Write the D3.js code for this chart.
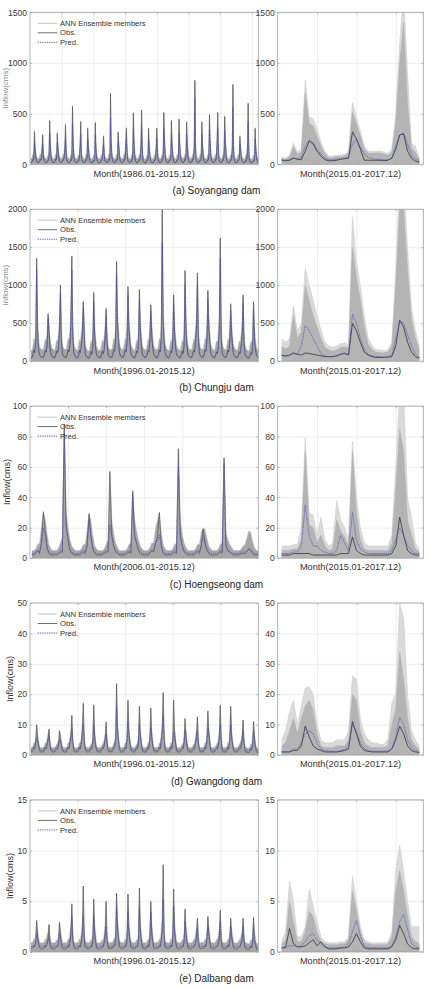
<!DOCTYPE html>
<html>
<head>
<meta charset="utf-8">
<script src="https://cdn.jsdelivr.net/npm/d3@7"></script>
<style>
  body { margin: 0; background: #fff; }
  svg { display: block; font-family: "Liberation Sans", Arial, sans-serif; }
</style>
</head>
<body>
<script>
// Labels
const captions = ['(a) Soyangang dam', '(b) Chungju dam', '(c) Hoengseong dam', '(d) Gwangdong dam', '(e) Dalbang dam'];
const longPeriods = ['Month(1986.01-2015.12)', 'Month(1996.01-2015.12)', 'Month(2006.01-2015.12)', 'Month(1996.01-2015.12)', 'Month(1996.01-2015.12)'];
const shortPeriod = 'Month(2015.01-2017.12)';
const legendNames = ['ANN Ensemble members', 'Obs.', 'Pred.'];
const yLabel = 'Inflow(cms)';

// Axis ticks
const yTicks = [[0, 500, 1000, 1500], [0, 500, 1000, 1500, 2000], [0, 20, 40, 60, 80, 100], [0, 10, 20, 30, 40, 50], [0, 5, 10, 15]];
const longGrid = [[50, 100, 150, 200, 250, 300, 350], [50, 100, 150, 200], [20, 40, 60, 80, 100], [50, 100, 150, 200], [50, 100, 150, 200]];
const shortGrid = [10, 20, 30];
const longMonths = [360, 240, 120, 240, 240];
const shortMonths = 36;

// (a) Soyangang 1986-2015, monthly (one row per year)
const obsA = [
  [15,14,20,45,35,60,320,150,80,35,25,18],[16,15,25,50,40,55,130,290,90,40,28,18],[15,14,22,40,38,70,430,200,85,38,26,17],
  [16,15,24,48,42,60,305,160,95,40,27,18],[17,16,25,45,40,80,140,390,120,42,28,19],[15,14,22,42,38,65,570,230,90,38,26,17],
  [16,15,20,40,35,55,180,420,110,40,27,18],[15,14,24,46,40,60,355,170,95,38,26,17],[14,13,20,38,32,50,410,150,70,32,24,16],
  [15,14,22,40,36,55,120,275,100,38,26,17],[16,15,24,45,40,70,700,210,90,40,27,18],[15,14,22,44,38,60,315,180,85,38,26,17],
  [16,15,24,46,40,75,200,355,130,42,28,18],[15,14,22,44,38,65,505,220,95,40,27,18],[16,15,24,42,40,70,180,535,160,42,28,18],
  [14,13,20,38,34,55,355,160,80,35,25,16],[15,14,22,40,36,60,150,355,120,40,27,17],[16,15,24,46,42,80,510,260,110,42,28,18],
  [15,14,22,44,38,65,430,190,95,40,27,17],[16,15,24,45,40,70,445,210,100,42,28,18],[17,16,25,48,42,75,415,200,95,40,28,18],
  [16,15,24,45,40,80,160,830,180,45,30,19],[15,14,22,42,38,65,415,190,90,38,27,17],[16,15,24,44,40,70,490,220,100,40,28,18],
  [17,16,25,46,42,75,200,510,170,42,29,18],[16,15,24,45,40,90,470,250,110,42,28,18],[15,14,22,40,36,60,150,790,160,40,27,17],
  [16,15,24,44,38,65,275,140,85,38,26,17],[14,13,20,38,34,55,170,600,140,38,26,16],[13,12,18,36,32,50,355,150,80,35,24,15]
].flat();
const predA = [
  [20,18,24,42,40,62,205,150,85,42,30,22],[20,18,26,46,42,60,140,200,95,44,30,22],[19,17,24,40,40,70,300,190,90,42,29,21],
  [20,18,25,45,43,62,210,160,98,44,30,22],[21,19,26,44,42,78,150,270,125,45,31,22],[19,17,24,42,40,66,400,220,95,42,29,21],
  [20,18,22,40,38,58,170,290,115,44,30,22],[19,17,25,44,42,62,250,165,98,42,29,21],[18,16,22,38,35,52,290,150,78,38,27,20],
  [19,17,24,40,38,57,125,195,105,42,29,21],[20,18,25,44,42,70,460,200,95,44,30,22],[19,17,24,43,40,62,220,170,90,42,29,21],
  [20,18,25,45,42,74,190,250,130,45,31,22],[19,17,24,43,40,66,350,210,100,44,30,22],[20,18,25,42,42,70,170,370,155,45,31,22],
  [18,16,22,38,36,56,250,155,85,40,28,20],[19,17,24,40,38,60,145,250,120,44,30,21],[20,18,25,45,44,78,360,240,115,45,31,22],
  [19,17,24,43,40,66,300,185,100,44,30,21],[20,18,25,44,42,70,310,200,105,45,31,22],[21,19,26,46,44,74,290,195,100,44,31,22],
  [20,18,25,44,42,78,160,650,175,48,33,23],[19,17,24,42,40,66,290,185,95,42,30,21],[20,18,25,43,42,70,340,210,105,44,31,22],
  [21,19,26,45,44,74,190,360,165,45,32,22],[20,18,25,44,42,88,330,240,115,45,31,22],[19,17,24,40,38,60,150,560,160,44,30,21],
  [20,18,25,43,40,64,200,140,90,42,29,21],[18,16,22,38,36,56,160,420,140,42,29,20],[17,15,20,36,34,52,250,150,85,40,27,19]
].flat();
const ensA = [
  [60,55,70,95,90,120,340,210,140,85,70,60],[60,55,75,100,95,115,190,300,150,90,72,60],[58,52,70,90,90,130,440,260,145,85,70,58],
  [60,55,72,98,95,120,320,220,155,90,72,60],[62,57,75,95,92,140,200,400,180,92,74,62],[58,52,70,92,90,125,580,290,150,85,70,58],
  [60,55,68,90,85,115,240,430,170,90,72,60],[58,52,72,96,92,120,365,230,155,85,70,58],[56,50,68,88,82,110,420,210,130,80,68,56],
  [58,52,70,90,88,115,180,285,160,85,70,58],[60,55,72,95,92,130,690,270,150,90,72,60],[58,52,70,94,90,120,325,240,145,85,70,58],
  [60,55,72,96,92,135,260,365,190,92,74,60],[58,52,70,94,90,125,510,280,155,90,72,60],[60,55,72,92,92,130,240,540,220,92,74,60],
  [56,50,68,88,84,115,360,220,140,82,68,56],[58,52,70,90,88,120,210,360,180,90,72,58],[60,55,72,96,94,140,515,320,170,92,74,60],
  [58,52,70,94,90,125,440,250,155,90,72,58],[60,55,72,95,92,130,450,270,160,92,74,60],[62,57,75,98,94,135,425,260,155,90,74,60],
  [60,55,72,95,92,140,220,820,240,95,76,62],[58,52,70,92,90,125,425,250,150,85,72,58],[60,55,72,94,92,130,495,280,160,90,74,60],
  [62,57,75,96,94,135,260,515,230,92,75,60],[60,55,72,95,92,150,480,310,170,92,74,60],[58,52,70,90,88,120,210,780,220,90,72,58],
  [60,55,72,94,90,125,285,200,145,85,70,58],[56,50,68,88,84,115,230,610,200,88,70,56],[54,48,65,85,82,110,365,210,140,82,66,54]
].flat();

// (b) Chungju 1996-2015
const obsB = [
  [45,40,70,150,110,240,1350,420,150,80,60,50],[50,45,80,140,120,200,620,380,180,90,65,50],[45,40,75,130,110,180,450,1000,300,100,70,55],
  [50,45,80,150,120,220,520,1380,350,110,70,55],[45,40,70,140,110,200,350,780,400,100,65,50],[40,35,60,120,90,180,900,350,160,80,60,45],
  [45,40,70,130,100,150,320,690,250,90,60,50],[50,45,80,150,130,260,1310,500,300,110,70,55],[50,45,80,150,120,250,980,420,250,100,70,55],
  [45,40,70,130,110,220,940,400,220,95,65,50],[50,45,75,140,120,260,740,350,180,90,65,50],[50,45,80,150,120,300,2000,550,260,110,70,55],
  [45,40,70,130,110,220,870,380,180,90,65,50],[45,40,70,130,100,200,1190,420,200,90,65,50],[50,45,80,140,120,250,450,1160,350,110,70,55],
  [50,45,80,150,130,280,930,450,250,100,70,55],[45,40,70,120,100,180,450,1620,380,110,70,55],[50,45,75,140,120,250,750,350,180,90,65,50],
  [45,40,70,120,100,180,350,870,250,90,60,50],[40,35,60,110,90,150,780,300,150,80,55,45]
].flat();
const predB = [
  [60,55,80,150,120,250,1200,430,170,90,70,60],[65,60,90,145,130,210,560,380,190,100,75,60],[60,55,85,135,120,190,440,880,310,110,80,65],
  [65,60,90,150,130,230,500,1200,360,120,80,65],[60,55,80,140,120,210,350,700,400,110,75,60],[55,50,70,125,100,190,790,350,170,90,70,55],
  [60,55,80,135,110,160,320,600,260,100,70,60],[65,60,90,150,140,270,1150,500,310,120,80,65],[65,60,90,150,130,260,870,420,260,110,80,65],
  [60,55,80,135,120,230,820,400,230,105,75,60],[65,60,85,145,130,270,660,350,190,100,75,60],[65,60,90,150,130,310,1550,550,270,120,80,65],
  [60,55,80,135,120,230,760,380,190,100,75,60],[60,55,80,135,110,210,1020,420,210,100,75,60],[65,60,90,145,130,260,450,1000,350,120,80,65],
  [65,60,90,150,140,290,820,450,260,110,80,65],[60,55,80,125,110,190,450,1350,380,120,80,65],[65,60,85,145,130,260,660,350,190,100,75,60],
  [60,55,80,125,110,190,350,760,260,100,70,60],[55,50,70,115,100,160,680,300,160,90,65,55]
].flat();
const ensB = [
  [150,140,200,300,260,420,1360,560,300,200,170,150],[160,150,220,290,280,380,640,520,330,220,180,160],[150,140,210,280,260,350,600,1010,450,230,180,160],
  [160,150,220,300,280,400,680,1380,500,240,190,160],[150,140,200,290,260,380,500,800,550,230,180,150],[140,130,190,270,240,350,920,500,310,200,170,140],
  [150,140,200,280,250,320,470,710,400,220,170,150],[160,150,220,300,290,450,1320,650,450,240,190,160],[160,150,220,300,280,430,990,570,400,230,190,160],
  [150,140,200,280,260,400,950,550,370,220,180,150],[160,150,210,290,280,450,760,500,330,220,180,150],[160,150,220,300,280,480,2000,700,420,240,190,160],
  [150,140,200,280,260,400,880,530,330,220,180,150],[150,140,200,280,250,380,1200,570,350,220,180,150],[160,150,220,290,280,430,600,1170,500,240,190,160],
  [160,150,220,300,290,460,940,600,400,230,190,160],[150,140,200,270,250,350,600,1620,530,240,190,160],[160,150,210,290,280,430,770,500,330,220,180,150],
  [150,140,200,270,250,350,500,880,400,220,170,150],[140,130,190,260,240,320,790,450,300,200,160,140]
].flat();

// (c) Hoengseong 2006-2015
const obsC = [
  [2,2,3,5,3,10,30,18,6,3,2,2],[2,2,3,4,4,88,22,12,5,3,2,2],[2,2,3,4,3,8,29,15,6,3,2,2],[2,2,3,4,4,57,15,8,4,3,2,2],
  [2,2,3,4,3,44,15,10,5,3,2,2],[2,2,3,5,4,10,14,30,8,3,2,2],[2,2,3,4,3,72,15,8,4,3,2,2],[2,2,3,4,3,8,19,10,5,3,2,2],
  [2,2,3,4,3,66,8,5,4,3,2,2],[2,2,3,3,3,4,6,5,3,2,2,2]
].flat();
const predC = [
  [3,3,4,5,4,9,20,15,7,4,3,3],[3,3,4,5,5,82,20,12,6,4,3,3],[3,3,4,5,4,8,25,14,7,4,3,3],[3,3,4,5,5,22,14,8,5,4,3,3],
  [3,3,4,5,4,42,14,10,6,4,3,3],[3,3,4,5,5,10,12,15,8,4,3,3],[3,3,4,5,4,60,14,8,5,4,3,3],[3,3,4,5,4,8,15,10,6,4,3,3],
  [3,3,4,5,4,62,8,5,4,3,3,3],[3,3,4,4,4,5,6,6,4,3,3,3]
].flat();
const ensC = [
  [5,5,6,9,10,20,31,26,16,9,6,5],[5,5,7,10,14,88,30,20,12,8,6,5],[5,5,6,9,9,18,30,25,15,8,6,5],[5,5,6,9,12,57,25,16,10,7,5,5],
  [5,5,6,9,10,45,25,18,12,8,6,5],[5,5,7,10,10,20,25,30,17,9,6,5],[5,5,6,9,10,72,25,16,10,7,5,5],[5,5,6,9,9,17,20,19,13,8,6,5],
  [5,5,6,9,10,66,16,12,9,7,5,5],[5,5,6,8,9,13,18,17,11,7,5,5]
].flat();

// (d) Gwangdong 1996-2015
const obsD = [
  [1,1,1.5,2.5,2,4,10,5,3,1.5,1,1],[1,1,1.5,2.5,2,3.5,5,8.5,3,1.5,1,1],[1,1,1.5,2,2,3,8,5,3,1.5,1,1],[1,1,1.5,2.5,2,4,6,13,4,1.5,1,1],
  [1,1,1.5,2.5,2,4,8,17,5,2,1.2,1],[1,1,1.5,2,2,4,16.5,6,3,1.5,1,1],[1,1,1.5,2,2,3,5,10.8,4,1.5,1,1],[1.2,1,1.5,2.5,2.5,5,23.5,9,5,2,1.2,1],
  [1,1,1.5,2.5,2,5,18,7,4,2,1.2,1],[1,1,1.5,2,2,4,16,6,4,1.5,1,1],[1,1,1.5,2.5,2,5,15.5,6,3,1.5,1,1],[1.2,1,1.5,2.5,2,5,8,20.5,6,2,1.2,1],
  [1,1,1.5,2.5,2,4,18,7,4,1.5,1,1],[1,1,1.5,2,2,4,12,6,3,1.5,1,1],[1,1,1.5,2,2,4,6,12.5,4,1.5,1,1],[1.2,1,1.5,2.5,2,5,14.5,7,4,1.5,1,1],
  [1,1,1.5,2,2,3,6,16.4,5,1.5,1,1],[1,1,1.5,2.5,2,5,16,6,3,1.5,1,1],[1,1,1.5,2,2,3,5,11.5,4,1.5,1,1],[0.8,0.8,1.2,2,1.5,3,11,5,2.5,1.2,0.8,0.8]
].flat();
const predD = [
  [1.5,1.5,2,2.5,2.5,4,5.5,5,3.5,2,1.5,1.5],[1.5,1.5,2,2.5,2.5,3.5,5,6,3.5,2,1.5,1.5],[1.5,1.5,2,2.5,2.5,3.5,5,5,3.5,2,1.5,1.5],
  [1.5,1.5,2,2.5,2.5,4,6,8,4,2,1.5,1.5],[1.5,1.5,2,2.5,2.5,4,7,10,5,2.2,1.6,1.5],[1.5,1.5,2,2.5,2.5,4,10,6,3.5,2,1.5,1.5],
  [1.5,1.5,2,2.5,2.5,3.5,5,7,4,2,1.5,1.5],[1.6,1.5,2,2.5,3,5,16,9,5,2.2,1.6,1.5],[1.5,1.5,2,2.5,2.5,5,11,7,4,2.2,1.6,1.5],
  [1.5,1.5,2,2.5,2.5,4,10,6,4,2,1.5,1.5],[1.5,1.5,2,2.5,2.5,5,9,6,3.5,2,1.5,1.5],[1.6,1.5,2,2.5,2.5,5,8,13,6,2.2,1.6,1.5],
  [1.5,1.5,2,2.5,2.5,4,7.5,7,4,2,1.5,1.5],[1.5,1.5,2,2.5,2.5,4,8,6,3.5,2,1.5,1.5],[1.5,1.5,2,2.5,2.5,4,6,8,4,2,1.5,1.5],
  [1.6,1.5,2,2.5,2.5,5,9,7,4,2,1.5,1.5],[1.5,1.5,2,2.5,2.5,3.5,6,10,5,2,1.5,1.5],[1.5,1.5,2,2.5,2.5,5,10,6,3.5,2,1.5,1.5],
  [1.5,1.5,2,2.5,2.5,3.5,5,8,4,2,1.5,1.5],[1.3,1.3,1.7,2.2,2,3.5,8,5,3,1.7,1.3,1.3]
].flat();
const ensD = [
  [2.5,2.5,3,4,4,6,10,7,5,3,2.5,2.5],[2.5,2.5,3,4,4,5.5,7,8.5,5,3,2.5,2.5],[2.5,2.5,3,3.5,4,5,8,7,5,3,2.5,2.5],
  [2.5,2.5,3,4,4,6,8,13,6,3,2.5,2.5],[2.5,2.5,3,4,4,6,10,17,7,3.5,2.6,2.5],[2.5,2.5,3,3.5,4,6,16.5,8,5,3,2.5,2.5],
  [2.5,2.5,3,3.5,4,5,7,11,6,3,2.5,2.5],[2.6,2.5,3,4,4.5,7,23,11,7,3.5,2.6,2.5],[2.5,2.5,3,4,4,7,18,9,6,3.5,2.6,2.5],
  [2.5,2.5,3,3.5,4,6,16,8,6,3,2.5,2.5],[2.5,2.5,3,4,4,7,15.5,8,5,3,2.5,2.5],[2.6,2.5,3,4,4,7,10,20.5,8,3.5,2.6,2.5],
  [2.5,2.5,3,4,4,6,18,9,6,3,2.5,2.5],[2.5,2.5,3,3.5,4,6,12,8,5,3,2.5,2.5],[2.5,2.5,3,3.5,4,6,8,12.5,6,3,2.5,2.5],
  [2.6,2.5,3,4,4,7,14.5,9,6,3,2.5,2.5],[2.5,2.5,3,3.5,4,5,8,16,7,3,2.5,2.5],[2.5,2.5,3,4,4,7,16,8,5,3,2.5,2.5],
  [2.5,2.5,3,3.5,4,5,7,11.5,6,3,2.5,2.5],[2.2,2.2,2.7,3.5,3.5,5,11,7,4.5,2.7,2.2,2.2]
].flat();

// (e) Dalbang 1996-2015
const obsE = [
  [0.3,0.3,0.4,0.6,0.5,0.9,3.1,1.5,0.8,0.4,0.3,0.3],[0.3,0.3,0.4,0.6,0.5,0.8,1.2,2.7,0.9,0.4,0.3,0.3],[0.3,0.3,0.4,0.5,0.5,0.8,2.9,1.5,0.9,0.4,0.3,0.3],
  [0.3,0.3,0.4,0.6,0.5,1,1.8,4.7,1.2,0.5,0.3,0.3],[0.3,0.3,0.4,0.6,0.5,1,2,6.5,1.5,0.5,0.4,0.3],[0.3,0.3,0.4,0.5,0.5,1,5.2,2,1,0.4,0.3,0.3],
  [0.3,0.3,0.4,0.5,0.5,0.9,1.8,5,1.2,0.5,0.3,0.3],[0.4,0.3,0.4,0.6,0.6,1.2,5.8,2.5,1.5,0.5,0.4,0.3],[0.3,0.3,0.4,0.6,0.5,1.2,5.7,2,1.2,0.5,0.4,0.3],
  [0.3,0.3,0.4,0.5,0.5,1,6.3,2,1.2,0.5,0.3,0.3],[0.3,0.3,0.4,0.6,0.5,1.2,5,2,1,0.4,0.3,0.3],[0.4,0.3,0.4,0.6,0.5,1.2,2.5,8.6,1.8,0.5,0.4,0.3],
  [0.3,0.3,0.4,0.6,0.5,1,6.2,2,1.2,0.5,0.3,0.3],[0.3,0.3,0.4,0.5,0.5,1,4.2,1.8,1,0.4,0.3,0.3],[0.3,0.3,0.4,0.5,0.5,0.9,1.5,3.3,1,0.4,0.3,0.3],
  [0.4,0.3,0.4,0.6,0.5,1.2,3.5,1.8,1,0.4,0.3,0.3],[0.3,0.3,0.4,0.5,0.5,0.8,1.5,4.1,1.2,0.4,0.3,0.3],[0.3,0.3,0.4,0.6,0.5,1,3.3,1.5,0.9,0.4,0.3,0.3],
  [0.3,0.3,0.4,0.5,0.5,0.8,1.2,3.3,1.1,0.4,0.3,0.3],[0.2,0.2,0.3,0.5,0.4,0.8,3.4,1.2,0.7,0.3,0.2,0.2]
].flat();
const predE = [
  [0.5,0.5,0.5,0.7,0.6,0.9,1.8,1.4,0.9,0.5,0.5,0.5],[0.5,0.5,0.5,0.7,0.6,0.9,1.2,1.5,0.9,0.5,0.5,0.5],[0.5,0.5,0.5,0.6,0.6,0.9,1.8,1.4,0.9,0.5,0.5,0.5],
  [0.5,0.5,0.5,0.7,0.6,1,1.7,3.5,1.2,0.6,0.5,0.5],[0.5,0.5,0.5,0.7,0.6,1,1.8,3.5,1.5,0.6,0.5,0.5],[0.5,0.5,0.5,0.6,0.6,1,3.5,1.8,1,0.5,0.5,0.5],
  [0.5,0.5,0.5,0.6,0.6,0.9,1.7,2.5,1.2,0.6,0.5,0.5],[0.5,0.5,0.5,0.7,0.7,1.2,4.5,2.3,1.4,0.6,0.5,0.5],[0.5,0.5,0.5,0.7,0.6,1.2,4,1.9,1.2,0.6,0.5,0.5],
  [0.5,0.5,0.5,0.6,0.6,1,4.5,1.9,1.2,0.6,0.5,0.5],[0.5,0.5,0.5,0.7,0.6,1.2,4,1.9,1,0.5,0.5,0.5],[0.5,0.5,0.5,0.7,0.6,1.2,2.3,5.2,1.7,0.6,0.5,0.5],
  [0.5,0.5,0.5,0.7,0.6,1,4.5,1.9,1.2,0.6,0.5,0.5],[0.5,0.5,0.5,0.6,0.6,1,3,1.7,1,0.5,0.5,0.5],[0.5,0.5,0.5,0.6,0.6,0.9,1.4,2.5,1,0.5,0.5,0.5],
  [0.5,0.5,0.5,0.7,0.6,1.2,2.5,1.7,1,0.5,0.5,0.5],[0.5,0.5,0.5,0.6,0.6,0.9,1.4,3,1.2,0.5,0.5,0.5],[0.5,0.5,0.5,0.7,0.6,1,2.5,1.5,0.9,0.5,0.5,0.5],
  [0.5,0.5,0.5,0.6,0.6,0.9,1.2,2.5,1.1,0.5,0.5,0.5],[0.4,0.4,0.4,0.6,0.5,0.9,2.5,1.2,0.8,0.4,0.4,0.4]
].flat();
const ensE = [
  [0.9,0.9,1,1.3,1.2,1.8,3.1,2.3,1.5,1,0.9,0.9],[0.9,0.9,1,1.3,1.2,1.7,2,2.7,1.6,1,0.9,0.9],[0.9,0.9,1,1.2,1.2,1.7,3,2.3,1.6,1,0.9,0.9],
  [0.9,0.9,1,1.3,1.2,1.9,2.6,4.8,2,1.1,0.9,0.9],[0.9,0.9,1,1.3,1.2,1.9,2.8,6.5,2.3,1.1,1,0.9],[0.9,0.9,1,1.2,1.2,1.9,5.2,2.8,1.8,1,0.9,0.9],
  [0.9,0.9,1,1.2,1.2,1.8,2.6,5,2,1.1,0.9,0.9],[1,0.9,1,1.3,1.3,2.1,5.8,3.3,2.3,1.1,1,0.9],[0.9,0.9,1,1.3,1.2,2.1,5.7,2.8,2,1.1,1,0.9],
  [0.9,0.9,1,1.2,1.2,1.9,6.3,2.8,2,1.1,0.9,0.9],[0.9,0.9,1,1.3,1.2,2.1,5,2.8,1.8,1,0.9,0.9],[1,0.9,1,1.3,1.2,2.1,3.3,8.6,2.6,1.1,1,0.9],
  [0.9,0.9,1,1.3,1.2,1.9,6.2,2.8,2,1.1,0.9,0.9],[0.9,0.9,1,1.2,1.2,1.9,4.3,2.6,1.8,1,0.9,0.9],[0.9,0.9,1,1.2,1.2,1.8,2.3,3.4,1.8,1,0.9,0.9],
  [1,0.9,1,1.3,1.2,2.1,3.5,2.6,1.8,1,0.9,0.9],[0.9,0.9,1,1.2,1.2,1.7,2.3,4.1,2,1,0.9,0.9],[0.9,0.9,1,1.3,1.2,1.9,3.4,2.3,1.6,1,0.9,0.9],
  [0.9,0.9,1,1.2,1.2,1.7,2,3.4,1.8,1,0.9,0.9],[0.8,0.8,0.9,1.2,1.1,1.7,3.5,2,1.4,0.9,0.8,0.8]
].flat();

// 2015.01-2017.12 test period: obs, ensemble mean prediction, ensemble envelope (outer) and dense core
const obsA2  = [40,35,40,60,50,45,130,230,200,130,80,45, 35,35,40,50,55,60,320,250,150,40,40,40, 40,40,35,40,60,150,290,300,130,60,30,20];
const predA2 = [45,40,45,60,55,70,180,240,220,150,100,60, 45,45,50,55,60,70,200,250,170,100,70,55, 50,50,45,45,60,180,290,310,200,90,50,30];
const ensA2  = [70,60,90,210,120,150,830,470,450,350,220,130, 80,80,90,90,100,130,610,470,330,180,130,130, 130,130,120,110,150,500,1200,1700,900,200,180,60];
const coreA2 = [55,50,70,170,100,120,700,400,380,280,180,100, 65,65,75,75,85,110,520,400,280,150,110,110, 110,110,100,90,120,400,1000,1400,600,160,120,45];

const obsB2  = [80,70,80,110,90,80,110,100,90,80,70,60, 60,60,70,90,100,80,500,400,250,120,80,60, 50,50,50,55,60,200,540,450,250,120,60,40];
const predB2 = [70,65,75,100,90,200,470,400,300,200,100,70, 60,60,70,100,110,90,620,500,300,150,90,70, 60,60,55,60,80,300,520,500,350,200,90,50];
const ensB2  = [300,250,300,730,400,500,1220,1000,800,600,400,250, 200,180,200,230,240,220,1900,1300,1000,600,300,200, 150,150,140,150,250,1200,2400,2400,1500,700,400,200];
const coreB2 = [200,160,200,600,300,380,1000,800,600,450,300,180, 150,130,150,180,190,170,1500,1100,800,450,220,150, 120,110,110,120,200,1000,2000,2000,1200,550,300,150];

const obsC2  = [2,2,2,3,3,3,3,3,2,2,2,2, 2,2,2,3,3,3,14,5,3,2,2,2, 2,2,2,2,3,8,27,15,5,3,2,2];
const predC2 = [3,3,3,4,4,8,35,15,8,8,5,4, 3,3,5,15,10,5,30,12,6,4,3,3, 3,3,3,3,5,12,20,15,8,5,3,3];
const ensC2  = [8,8,8,9,9,20,79,30,28,15,27,12, 8,10,38,25,20,12,77,40,20,10,8,8, 8,8,8,8,15,60,110,110,40,27,10,6];
const coreC2 = [5,5,5,6,6,12,70,22,20,10,15,8, 5,6,25,18,14,8,70,30,12,6,5,5, 5,5,5,5,10,45,85,70,25,15,6,4];

const obsD2  = [1,1,1,1.5,1.5,3,9.5,6,3,2,1.5,1, 1,1,1,1.2,1.5,2,11,7,3,1.5,1.2,1, 1,1,1,1,2,5,9.5,7,3,1.5,1,0.8];
const predD2 = [1,1,1.2,2,2,4,7,8,7,4,2,1.5, 1.2,1.2,1.2,1.5,1.8,3,10,8,4,2,1.5,1.2, 1.2,1.2,1.2,1.3,2,6,12.5,10,5,2.5,1.5,1];
const ensD2  = [5,8,14,18,10,16,22,22.5,20,10,5,4, 4,4,5,5,5,8,26,25,12,7,5,4, 4,3.5,3.5,5,17,20,50,45,20,8,5,3];
const coreD2 = [3,4,8,12,7,12,16,18,15,7,3,2.5, 2.5,2.5,3,3,3,5,20,18,8,4,3,2.5, 2.5,2.5,2.5,3,10,15,34,25,12,5,3,2];

const obsE2  = [0.4,0.4,2.3,0.8,0.5,0.5,0.6,0.9,1.2,0.6,1,0.5, 0.3,0.3,0.3,0.4,0.4,0.5,1,1.8,1,0.4,0.3,0.3, 0.3,0.3,0.3,0.3,0.5,1.2,2.6,1.8,0.8,0.4,0.3,0.3];
const predE2 = [0.4,0.5,0.6,0.6,0.5,0.6,1,1.6,1.8,1.2,0.8,0.5, 0.4,0.4,0.4,0.4,0.5,0.8,2,3.1,1.6,0.6,0.4,0.4, 0.4,0.4,0.4,0.4,0.6,1.5,3,3.7,2.2,0.8,0.5,0.4];
const ensE2  = [1,2,7,5,1.5,1.5,2.5,6.2,4.5,3,1.5,1, 0.9,0.9,0.9,1,1,1.5,7.5,5,2.5,1.2,1,0.9, 0.9,0.9,0.9,1,2,8,10.5,8,5,2.5,2.5,2.5];
const coreE2 = [0.8,1.2,5,3,1,1,2,4,3.5,2,1,0.8, 0.7,0.7,0.7,0.8,0.8,1.2,6,4,2,0.9,0.8,0.7, 0.7,0.7,0.7,0.8,1.5,6,8,6,3.5,1.5,1,0.8];

const longSeries = [[obsA, predA, ensA], [obsB, predB, ensB], [obsC, predC, ensC], [obsD, predD, ensD], [obsE, predE, ensE]];
const shortSeries = [[obsA2, predA2, ensA2, coreA2], [obsB2, predB2, ensB2, coreB2], [obsC2, predC2, ensC2, coreC2],
                     [obsD2, predD2, ensD2, coreD2], [obsE2, predE2, ensE2, coreE2]];

// Layout
const width = 431, height = 989;
const panelH = 152;
const tops = [12.3, 209.2, 406.1, 603, 799.9];
const leftX = [30, 258.3], rightX = [277.7, 423.3];
const yLabelX = [7.5, 7.5, 9.5, 13.3, 13.3];
const font = '"Liberation Sans", Arial, sans-serif';

const svg = d3.select('body').append('svg')
  .attr('width', width)
  .attr('height', height);

function styleGrid(sel) {
  sel.select('.domain').remove();
  sel.selectAll('line').attr('stroke', '#e3e3e3').attr('stroke-width', 0.6);
}
function styleTicks(sel) {
  sel.select('.domain').remove();
  sel.selectAll('line').attr('stroke', '#9a9a9a').attr('stroke-width', 0.6);
}

function drawPlot(id, xr, top, domainMax, gridX, ticks, series, isLong) {
  const bottom = top + panelH;
  const w = xr[1] - xr[0];
  const x = d3.scaleLinear().domain([0, domainMax]).range(xr);
  const y = d3.scaleLinear().domain([0, ticks[ticks.length - 1]]).range([bottom, top]);
  const g = svg.append('g');

  svg.append('clipPath').attr('id', id)
    .append('rect').attr('x', xr[0]).attr('y', top).attr('width', w).attr('height', panelH);

  // grid lines
  g.append('g').attr('transform', `translate(0,${bottom})`)
    .call(d3.axisBottom(x).tickValues(gridX).tickSize(-panelH).tickFormat(''))
    .call(styleGrid);
  g.append('g').attr('transform', `translate(${xr[0]},0)`)
    .call(d3.axisLeft(y).tickValues(ticks).tickSize(-w).tickFormat(''))
    .call(styleGrid);

  const plot = g.append('g').attr('clip-path', `url(#${id})`);
  const [obs, pred, ens, core] = series;
  const mx = (d, i) => x(i + 1);

  // ensemble members
  if (isLong) {
    plot.append('path').datum(ens)
      .attr('fill', '#a6a6a6')
      .attr('d', d3.area().x(mx).y0(y(0)).y1(d => y(d)));
    plot.append('path').datum(ens)
      .attr('fill', 'none').attr('stroke', '#bdbdbd').attr('stroke-width', 0.5)
      .attr('d', d3.line().x(mx).y(d => y(d)));
  } else {
    plot.append('path').datum(ens)
      .attr('fill', '#dadada')
      .attr('d', d3.area().x(mx).y0(y(0)).y1(d => y(d)));
    plot.append('path').datum(ens)
      .attr('fill', 'none').attr('stroke', '#c6c6c6').attr('stroke-width', 0.5)
      .attr('d', d3.line().x(mx).y(d => y(d)));
    plot.append('path').datum(core)
      .attr('fill', '#b4b4b4')
      .attr('d', d3.area().x(mx).y0(y(0)).y1(d => y(d)));
    plot.append('path').datum(core)
      .attr('fill', 'none').attr('stroke', '#a8a8a8').attr('stroke-width', 0.4)
      .attr('d', d3.line().x(mx).y(d => y(d)));
  }

  // observations
  plot.append('path').datum(obs)
    .attr('fill', 'none')
    .attr('stroke', isLong ? '#4a4a4a' : '#333')
    .attr('stroke-width', isLong ? 0.6 : 0.8)
    .attr('d', d3.line().x(mx).y(d => y(d)));

  // ensemble mean prediction
  plot.append('path').datum(pred)
    .attr('fill', 'none')
    .attr('stroke', '#4646cc')
    .attr('stroke-width', 0.7)
    .attr('stroke-dasharray', '1.4,0.9')
    .attr('d', d3.line().x(mx).y(d => y(d)));

  // frame and inner tick marks
  g.append('rect')
    .attr('x', xr[0]).attr('y', top).attr('width', w).attr('height', panelH)
    .attr('fill', 'none').attr('stroke', '#a0a0a0').attr('stroke-width', 0.8);
  g.append('g').attr('transform', `translate(0,${bottom})`)
    .call(d3.axisBottom(x).tickValues(gridX).tickSize(-2).tickFormat('')).call(styleTicks);
  g.append('g').attr('transform', `translate(0,${top})`)
    .call(d3.axisTop(x).tickValues(gridX).tickSize(-2).tickFormat('')).call(styleTicks);
  g.append('g').attr('transform', `translate(${xr[0]},0)`)
    .call(d3.axisLeft(y).tickValues(ticks).tickSize(-2).tickFormat('')).call(styleTicks);
  g.append('g').attr('transform', `translate(${xr[1]},0)`)
    .call(d3.axisRight(y).tickValues(ticks).tickSize(-2).tickFormat('')).call(styleTicks);

  // y tick labels
  g.append('g').attr('transform', `translate(${xr[0]},0)`)
    .call(d3.axisLeft(y).tickValues(ticks).tickSize(0).tickPadding(3).tickFormat(d3.format('d')))
    .call(a => {
      a.select('.domain').remove();
      a.selectAll('text').attr('font-family', font).attr('font-size', 8.6).attr('fill', '#3a3a3a');
    });

  return {g, x, y, bottom};
}

captions.forEach((cap, i) => {
  const top = tops[i];
  const L = drawPlot(`cl${i}`, leftX, top, longMonths[i], longGrid[i], yTicks[i], longSeries[i], true);
  const R = drawPlot(`cr${i}`, rightX, top, shortMonths + 1, shortGrid, yTicks[i], shortSeries[i], false);

  // x labels
  svg.append('text')
    .attr('x', (leftX[0] + leftX[1]) / 2).attr('y', L.bottom + 12.3)
    .attr('text-anchor', 'middle').attr('font-family', font).attr('font-size', 9.2).attr('fill', '#333')
    .text(longPeriods[i]);
  svg.append('text')
    .attr('x', (rightX[0] + rightX[1]) / 2).attr('y', R.bottom + 12.3)
    .attr('text-anchor', 'middle').attr('font-family', font).attr('font-size', 9.2).attr('fill', '#333')
    .text(shortPeriod);

  // caption
  svg.append('text')
    .attr('x', 216.5).attr('y', L.bottom + 30)
    .attr('text-anchor', 'middle').attr('font-family', font).attr('font-size', 10).attr('fill', '#222')
    .text(cap);

  // y label
  svg.append('text')
    .attr('transform', `translate(${yLabelX[i]},${top + panelH / 2}) rotate(-90)`)
    .attr('text-anchor', 'middle').attr('font-family', font)
    .attr('font-size', i < 2 ? 8 : 9)
    .attr('fill', i < 2 ? '#8a8a8a' : '#333')
    .text(yLabel);

  // legend
  const styles = [
    {stroke: '#b4b4b4', width: 0.8, dash: null},
    {stroke: '#4a4a4a', width: 0.8, dash: null},
    {stroke: '#4646cc', width: 0.8, dash: '1.4,0.9'}
  ];
  const offsets = [11, 20.5, 30];
  const leg = svg.append('g');
  legendNames.forEach((name, k) => {
    const ly = top + offsets[k];
    leg.append('line')
      .attr('x1', 37.7).attr('x2', 57.3).attr('y1', ly).attr('y2', ly)
      .attr('stroke', styles[k].stroke).attr('stroke-width', styles[k].width)
      .attr('stroke-dasharray', styles[k].dash);
    leg.append('text')
      .attr('x', 60).attr('y', ly).attr('dy', '0.35em')
      .attr('font-family', font).attr('font-size', 7.6).attr('fill', '#333')
      .text(name);
  });
});
</script>
</body>
</html>
